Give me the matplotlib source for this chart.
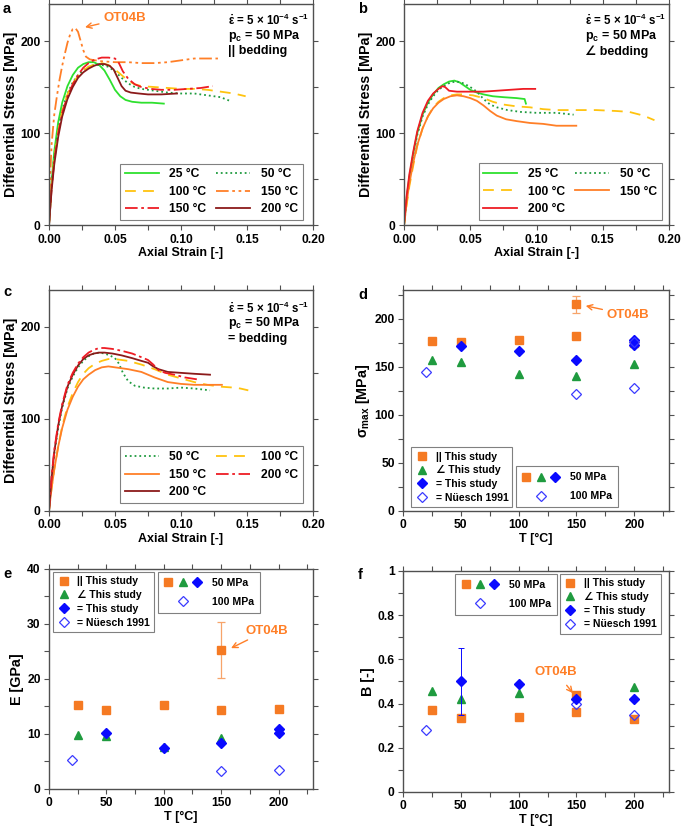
import matplotlib
matplotlib.use("Agg")
import matplotlib.pyplot as plt
from matplotlib.lines import Line2D
from matplotlib.legend_handler import HandlerTuple
from matplotlib.ticker import MultipleLocator, FuncFormatter

plt.rcParams['font.family'] = ['Liberation Sans', 'DejaVu Sans']
plt.rcParams['font.weight'] = 'bold'
plt.rcParams['axes.labelweight'] = 'bold'
plt.rcParams['mathtext.fontset'] = 'custom'
plt.rcParams['mathtext.rm'] = 'Liberation Sans:bold'
plt.rcParams['mathtext.it'] = 'Liberation Sans:bold'
plt.rcParams['mathtext.bf'] = 'Liberation Sans:bold'

# ---------- stress-strain curves ----------
# a: || bedding
a_25_x = [0, 0.002, 0.004, 0.007, 0.010, 0.014, 0.018, 0.022, 0.026, 0.030, 0.034, 0.038, 0.042, 0.046, 0.050, 0.054, 0.058, 0.063, 0.070, 0.078, 0.087]
a_25_y = [0, 48, 80, 112, 133, 151, 163, 171, 175, 177, 177, 174, 168, 158, 147, 140, 136, 134, 133, 133, 132]
a_50_x = [0, 0.002, 0.004, 0.007, 0.010, 0.014, 0.018, 0.022, 0.026, 0.030, 0.035, 0.040, 0.045, 0.050, 0.055, 0.060, 0.065, 0.070, 0.080, 0.090, 0.100, 0.110, 0.120, 0.130, 0.137]
a_50_y = [0, 44, 74, 104, 125, 143, 155, 163, 168, 172, 174, 174, 172, 167, 160, 154, 150, 148, 146, 144, 143, 143, 141, 139, 135]
a_100_x = [0, 0.002, 0.004, 0.007, 0.010, 0.014, 0.018, 0.022, 0.026, 0.030, 0.035, 0.040, 0.045, 0.050, 0.055, 0.060, 0.065, 0.070, 0.080, 0.090, 0.100, 0.110, 0.120, 0.130, 0.140, 0.149]
a_100_y = [0, 42, 72, 102, 124, 142, 154, 162, 168, 172, 175, 176, 174, 169, 163, 157, 153, 151, 150, 149, 148, 148, 147, 145, 143, 140]
a_150o_x = [0, 0.001, 0.002, 0.004, 0.006, 0.008, 0.010, 0.012, 0.014, 0.016, 0.018, 0.020, 0.022, 0.024, 0.026, 0.028, 0.031, 0.035, 0.040, 0.050, 0.060, 0.070, 0.080, 0.090, 0.100, 0.110, 0.120, 0.128]
a_150o_y = [0, 55, 88, 120, 140, 158, 173, 186, 198, 207, 213, 214, 210, 200, 190, 183, 180, 179, 178, 177, 177, 176, 176, 177, 179, 181, 181, 181]
a_150r_x = [0, 0.002, 0.004, 0.007, 0.010, 0.014, 0.018, 0.022, 0.026, 0.030, 0.035, 0.040, 0.045, 0.050, 0.053, 0.056, 0.060, 0.065, 0.070, 0.077, 0.085, 0.095, 0.105, 0.115, 0.124]
a_150r_y = [0, 40, 70, 100, 122, 140, 153, 163, 171, 176, 180, 182, 182, 181, 176, 167, 159, 153, 150, 148, 147, 147, 148, 149, 151]
a_200_x = [0, 0.002, 0.004, 0.007, 0.010, 0.014, 0.018, 0.022, 0.026, 0.030, 0.034, 0.038, 0.042, 0.046, 0.049, 0.052, 0.055, 0.058, 0.062, 0.068, 0.075, 0.085, 0.097]
a_200_y = [0, 38, 66, 96, 118, 137, 150, 160, 166, 170, 173, 175, 175, 173, 169, 160, 151, 146, 144, 143, 142, 142, 143]

# b: angled bedding
b_25_x = [0, 0.002, 0.004, 0.007, 0.010, 0.014, 0.018, 0.022, 0.026, 0.030, 0.034, 0.038, 0.042, 0.046, 0.050, 0.055, 0.060, 0.067, 0.075, 0.085, 0.091, 0.092]
b_25_y = [0, 30, 52, 78, 100, 120, 133, 142, 149, 153, 156, 157, 155, 151, 147, 144, 142, 140, 139, 138, 137, 132]
b_50_x = [0, 0.002, 0.004, 0.007, 0.010, 0.014, 0.018, 0.022, 0.026, 0.030, 0.035, 0.040, 0.045, 0.050, 0.055, 0.060, 0.065, 0.070, 0.078, 0.088, 0.100, 0.115, 0.128]
b_50_y = [0, 28, 50, 76, 98, 118, 131, 140, 147, 151, 155, 156, 154, 150, 145, 137, 131, 128, 125, 123, 122, 122, 120]
b_100_x = [0, 0.002, 0.004, 0.007, 0.010, 0.014, 0.018, 0.022, 0.026, 0.030, 0.035, 0.040, 0.045, 0.052, 0.060, 0.067, 0.075, 0.085, 0.095, 0.105, 0.115, 0.130, 0.145, 0.160, 0.170, 0.178, 0.184, 0.189]
b_100_y = [0, 22, 42, 65, 86, 105, 118, 128, 134, 138, 141, 142, 142, 141, 138, 134, 131, 129, 128, 126, 125, 125, 125, 124, 123, 120, 117, 114]
b_150_x = [0, 0.002, 0.004, 0.007, 0.010, 0.014, 0.018, 0.022, 0.026, 0.030, 0.035, 0.040, 0.045, 0.050, 0.055, 0.060, 0.065, 0.070, 0.077, 0.085, 0.095, 0.105, 0.115, 0.130]
b_150_y = [0, 25, 45, 68, 87, 105, 118, 127, 133, 137, 140, 141, 140, 138, 135, 130, 124, 119, 115, 113, 111, 110, 108, 108]
b_200_x = [0, 0.002, 0.004, 0.007, 0.010, 0.014, 0.018, 0.022, 0.026, 0.029, 0.031, 0.034, 0.040, 0.050, 0.060, 0.070, 0.080, 0.090, 0.099]
b_200_y = [0, 32, 55, 80, 102, 122, 135, 143, 148, 151, 150, 146, 145, 145, 145, 146, 147, 148, 148]

# c: perpendicular bedding
c_50_x = [0, 0.002, 0.004, 0.007, 0.010, 0.014, 0.018, 0.022, 0.026, 0.030, 0.034, 0.038, 0.042, 0.046, 0.050, 0.053, 0.056, 0.060, 0.065, 0.072, 0.080, 0.090, 0.100, 0.110, 0.122]
c_50_y = [0, 35, 62, 90, 112, 133, 146, 156, 163, 168, 171, 172, 171, 169, 166, 160, 150, 141, 136, 134, 133, 133, 134, 133, 131]
c_100_x = [0, 0.002, 0.004, 0.007, 0.010, 0.014, 0.018, 0.022, 0.026, 0.030, 0.035, 0.040, 0.045, 0.050, 0.060, 0.070, 0.080, 0.090, 0.100, 0.110, 0.120, 0.130, 0.140, 0.145, 0.151]
c_100_y = [0, 25, 45, 70, 92, 113, 128, 140, 149, 155, 160, 163, 165, 165, 163, 159, 154, 148, 144, 140, 137, 135, 134, 133, 131]
c_150_x = [0, 0.002, 0.004, 0.007, 0.010, 0.014, 0.018, 0.022, 0.026, 0.030, 0.035, 0.040, 0.045, 0.050, 0.055, 0.060, 0.070, 0.080, 0.090, 0.100, 0.110, 0.120, 0.131]
c_150_y = [0, 25, 45, 70, 90, 110, 124, 135, 143, 148, 153, 156, 157, 156, 155, 154, 151, 145, 140, 138, 137, 137, 137]
c_200r_x = [0, 0.002, 0.004, 0.007, 0.010, 0.014, 0.018, 0.022, 0.026, 0.030, 0.034, 0.038, 0.042, 0.048, 0.055, 0.063, 0.070, 0.075, 0.079, 0.083, 0.088, 0.095, 0.103, 0.112]
c_200r_y = [0, 38, 66, 95, 116, 137, 150, 160, 167, 172, 175, 177, 177, 176, 174, 171, 167, 164, 159, 153, 150, 148, 145, 143]
c_200d_x = [0, 0.002, 0.004, 0.007, 0.010, 0.014, 0.018, 0.022, 0.026, 0.030, 0.034, 0.038, 0.042, 0.048, 0.055, 0.063, 0.070, 0.075, 0.079, 0.083, 0.090, 0.100, 0.110, 0.122]
c_200d_y = [0, 36, 64, 93, 114, 135, 148, 158, 165, 169, 171, 172, 172, 171, 169, 166, 163, 161, 157, 154, 151, 150, 149, 148]

# ---------- summary data vs temperature ----------
T_par = [25, 50, 100, 150, 200]
T_ang_s = [25, 50, 100, 150, 200]
T_perp_s = [50, 100, 150, 200, 200]
T_nue_s = [20, 150, 200, 200]
smax_par = [177, 175.5, 177.5, 182.5, 175]
smax_ang = [157, 155.5, 142.5, 141, 152.5]
smax_perp = [172, 166.5, 157.5, 178, 172.5]
smax_nue = [144.5, 121.5, 128, 176]
smax_ot, smax_ot_err = 215, 9

T_ang_e = [25, 50, 100, 150]
T_perp_e = [50, 100, 150, 200, 200]
T_nue_e = [20, 150, 200]
E_par = [15.3, 14.4, 15.2, 14.3, 14.6]
E_ang = [9.9, 9.6, 7.7, 9.3]
E_perp = [10.1, 7.4, 8.4, 10.9, 10.2]
E_nue = [5.2, 3.2, 3.4]
E_ot, E_ot_err = 25.3, 5.1

T_ang_b = [25, 50, 100, 200]
T_perp_b = [50, 100, 150, 200]
T_nue_b = [20, 150, 200]
B_par = [0.373, 0.336, 0.34, 0.361, 0.33]
B_ang = [0.455, 0.42, 0.45, 0.473]
B_perp = [0.50, 0.49, 0.42, 0.42]
B_perp_err = [0.15, 0, 0, 0]
B_nue = [0.28, 0.40, 0.35]
B_ot = 0.437
T_ot = 150

# colours
C_GREEN_L = '#2ee02e'
C_GREEN_D = '#1f9b3f'
C_YELLOW = '#ffc30f'
C_ORANGE = '#ff7f27'
C_RED = '#ee1c24'
C_DRED = '#8b1a1a'
C_SQ = '#f57a23'
C_BLUE = '#0a0aff'
C_OPEN = '#3a3aff'

fig = plt.figure(figsize=(6.85, 8.34), dpi=100)
ax_a = fig.add_axes([0.0715, 0.730, 0.3854, 0.265])
ax_b = fig.add_axes([0.5898, 0.730, 0.3869, 0.265])
ax_c = fig.add_axes([0.0715, 0.3873, 0.3854, 0.265])
ax_d = fig.add_axes([0.5883, 0.3873, 0.3883, 0.265])
ax_e = fig.add_axes([0.0715, 0.0540, 0.3854, 0.2638])
ax_f = fig.add_axes([0.5883, 0.0504, 0.3883, 0.2650])

FS_TICK = 8.7
FS_XL = 9
FS_YL = 10.3
FS_LEG = 8.7
FS_LEG2 = 7.6
lw = 1.3
dash = (6, 4)
dashdot = (7, 2, 1.5, 2)
dashdotdot = (7, 2, 1.5, 2, 1.5, 2)


def style(ax, major_x, minor_x, major_y, minor_y):
    for s in ax.spines.values():
        s.set_color('#505050')
        s.set_linewidth(1.0)
    ax.xaxis.set_major_locator(MultipleLocator(major_x))
    ax.xaxis.set_minor_locator(MultipleLocator(minor_x))
    ax.yaxis.set_major_locator(MultipleLocator(major_y))
    ax.yaxis.set_minor_locator(MultipleLocator(minor_y))
    ax.tick_params(which='both', direction='out', top=True, right=True,
                   length=3.5, width=0.8, color='#505050', labelsize=FS_TICK, pad=2.5)
    for lab in ax.get_xticklabels() + ax.get_yticklabels():
        lab.set_fontweight('bold')


def leg_style(leg):
    leg.get_frame().set_edgecolor('#808080')
    leg.get_frame().set_linewidth(0.8)


def cond_text(ax, x, ys, third):
    ax.text(x, ys[0], r'$\dot{\varepsilon}$ = 5 × 10$^{-4}$ s$^{-1}$', transform=ax.transAxes,
            fontsize=8.3, va='center', ha='left')
    ax.text(x, ys[1], r'p$_{\mathrm{c}}$ = 50 MPa', transform=ax.transAxes,
            fontsize=9, va='center', ha='left')
    ax.text(x, ys[2], third, transform=ax.transAxes, fontsize=9, va='center', ha='left')


def curve_legend(ax, handles, labels, anchor):
    leg = ax.legend(handles, labels, ncol=2, loc='lower right', bbox_to_anchor=anchor,
                    fontsize=FS_LEG, handlelength=2.8, handletextpad=0.9, columnspacing=0.8,
                    labelspacing=0.45, fancybox=False, framealpha=1, borderpad=0.4,
                    borderaxespad=0)
    leg_style(leg)
    return leg


def strain_axis(ax):
    ax.set_xlim(0, 0.2)
    ax.set_ylim(0, 240)
    style(ax, 0.05, 0.025, 100, 50)
    ax.xaxis.set_major_formatter(FuncFormatter(lambda v, p: f'{v:.2f}'))
    ax.set_xlabel('Axial Strain [-]', fontsize=FS_XL, labelpad=1)
    ax.set_ylabel('Differential Stress [MPa]', fontsize=FS_YL, labelpad=2)


# ----- panel a -----
ax = ax_a
h25, = ax.plot(a_25_x, a_25_y, color=C_GREEN_L, lw=lw)
h50, = ax.plot(a_50_x, a_50_y, color=C_GREEN_D, lw=lw, ls=':')
h100, = ax.plot(a_100_x, a_100_y, color=C_YELLOW, lw=lw, dashes=dash)
h150o, = ax.plot(a_150o_x, a_150o_y, color=C_ORANGE, lw=lw, dashes=dashdotdot)
h150r, = ax.plot(a_150r_x, a_150r_y, color=C_RED, lw=lw, dashes=dashdot)
h200, = ax.plot(a_200_x, a_200_y, color=C_DRED, lw=lw)
strain_axis(ax)
curve_legend(ax, [h25, h100, h150r, h50, h150o, h200],
             ['25 °C', '100 °C', '150 °C', '50 °C', '150 °C', '200 °C'], (0.962, 0.023))
cond_text(ax, 0.678, [0.928, 0.858, 0.786], '|| bedding')
ax.annotate('OT04B', xy=(0.0273, 215), xytext=(0.041, 225), color=C_ORANGE,
            fontsize=9.5, fontweight='bold', va='center',
            arrowprops=dict(arrowstyle='->', color=C_ORANGE, lw=1.0, shrinkA=1, shrinkB=0))

# ----- panel b -----
ax = ax_b
g25, = ax.plot(b_25_x, b_25_y, color=C_GREEN_L, lw=lw)
g50, = ax.plot(b_50_x, b_50_y, color=C_GREEN_D, lw=lw, ls=':')
g100, = ax.plot(b_100_x, b_100_y, color=C_YELLOW, lw=lw, dashes=dash)
g150, = ax.plot(b_150_x, b_150_y, color=C_ORANGE, lw=lw)
g200, = ax.plot(b_200_x, b_200_y, color=C_RED, lw=lw)
strain_axis(ax)
curve_legend(ax, [g25, g100, g200, g50, g150],
             ['25 °C', '100 °C', '200 °C', '50 °C', '150 °C'], (0.972, 0.024))
cond_text(ax, 0.683, [0.928, 0.858, 0.786], '∠ bedding')

# ----- panel c -----
ax = ax_c
k50, = ax.plot(c_50_x, c_50_y, color=C_GREEN_D, lw=lw, ls=':')
k100, = ax.plot(c_100_x, c_100_y, color=C_YELLOW, lw=lw, dashes=dash)
k150, = ax.plot(c_150_x, c_150_y, color=C_ORANGE, lw=lw)
k200d, = ax.plot(c_200d_x, c_200d_y, color=C_DRED, lw=lw)
k200r, = ax.plot(c_200r_x, c_200r_y, color=C_RED, lw=lw, dashes=dashdot)
strain_axis(ax)
curve_legend(ax, [k50, k150, k200d, k100, k200r],
             ['50 °C', '150 °C', '200 °C', '100 °C', '200 °C'], (0.962, 0.036))
cond_text(ax, 0.678, [0.918, 0.851, 0.778], '= bedding')

# ----- markers for d, e, f -----
MS = 5.5
m_par = dict(marker='s', color=C_SQ, ms=MS, ls='none')
m_ang = dict(marker='^', color=C_GREEN_D, ms=MS, ls='none')
m_perp = dict(marker='D', color=C_BLUE, ms=MS - 0.8, ls='none')
m_nue = dict(marker='D', mfc='none', mec=C_OPEN, mew=0.9, ms=MS - 0.8, ls='none')

lp = Line2D([], [], **m_par)
la = Line2D([], [], **m_ang)
lq = Line2D([], [], **m_perp)
ln = Line2D([], [], **m_nue)
study_labels = ['|| This study', '∠ This study', '= This study', '= Nüesch 1991']


def study_legend(ax, loc, anchor):
    leg = ax.legend([lp, la, lq, ln], study_labels, loc=loc, bbox_to_anchor=anchor,
                    fontsize=FS_LEG2, handlelength=1.2, handletextpad=0.7, labelspacing=0.35,
                    fancybox=False, framealpha=1, borderpad=0.4, numpoints=1, borderaxespad=0)
    leg_style(leg)
    return leg


def press_legend(ax, loc, anchor):
    leg = ax.legend([(lp, la, lq), ln], ['50 MPa', '100 MPa'], loc=loc, bbox_to_anchor=anchor,
                    fontsize=FS_LEG2, handlelength=3.5, handletextpad=1.0, labelspacing=0.85,
                    handler_map={tuple: HandlerTuple(ndivide=None, pad=0.5)},
                    fancybox=False, framealpha=1, borderpad=0.55, numpoints=1, borderaxespad=0)
    leg_style(leg)
    return leg


def temp_axis(ax):
    ax.set_xlim(0, 230)
    ax.set_xlabel('T [°C]', fontsize=FS_XL, labelpad=1)


# ----- panel d -----
ax = ax_d
ax.errorbar([T_ot], [smax_ot], yerr=[smax_ot_err], color='#f7a46a', ecolor='#f7a46a',
            elinewidth=0.9, capsize=3, capthick=0.9, ls='none')
ax.plot([T_ot], [smax_ot], **m_par)
ax.plot(T_par, smax_par, **m_par)
ax.plot(T_ang_s, smax_ang, **m_ang)
ax.plot(T_perp_s, smax_perp, **m_perp)
ax.plot(T_nue_s, smax_nue, **m_nue)
temp_axis(ax)
ax.set_ylim(0, 230)
style(ax, 50, 25, 50, 25)
ax.set_ylabel(r'$\sigma_{\mathrm{max}}$ [MPa]', fontsize=FS_YL, labelpad=2)
l1 = study_legend(ax, 'lower left', (0.031, 0.018))
ax.add_artist(l1)
press_legend(ax, 'lower left', (0.426, 0.018))
ax.annotate('OT04B', xy=(158, 213.5), xytext=(176, 204), color=C_ORANGE,
            fontsize=9.5, fontweight='bold', va='center',
            arrowprops=dict(arrowstyle='->', color=C_ORANGE, lw=1.0, shrinkA=1, shrinkB=0))

# ----- panel e -----
ax = ax_e
ax.errorbar([T_ot], [E_ot], yerr=[E_ot_err], color='#f7a46a', ecolor='#f7a46a',
            elinewidth=0.9, capsize=3, capthick=0.9, ls='none')
ax.plot([T_ot], [E_ot], **m_par)
ax.plot(T_par, E_par, **m_par)
ax.plot(T_ang_e, E_ang, **m_ang)
ax.plot(T_perp_e, E_perp, **m_perp)
ax.plot(T_nue_e, E_nue, **m_nue)
temp_axis(ax)
ax.set_ylim(0, 40)
style(ax, 50, 25, 10, 5)
ax.set_ylabel('E [GPa]', fontsize=FS_YL, labelpad=2)
l1 = study_legend(ax, 'upper left', (0.016, 0.985))
ax.add_artist(l1)
press_legend(ax, 'upper left', (0.414, 0.985))
ax.annotate('OT04B', xy=(158.6, 25.6), xytext=(171, 28.8), color=C_ORANGE,
            fontsize=9.5, fontweight='bold', va='center',
            arrowprops=dict(arrowstyle='->', color=C_ORANGE, lw=1.0, shrinkA=1, shrinkB=0))

# ----- panel f -----
ax = ax_f
ax.plot(T_par, B_par, **m_par)
ax.plot([T_ot], [B_ot], **m_par)
ax.plot(T_ang_b, B_ang, **m_ang)
ax.errorbar(T_perp_b, B_perp, yerr=B_perp_err, ecolor=C_BLUE, elinewidth=0.7,
            capsize=2.5, capthick=0.7, ls='none', marker='D', color=C_BLUE, ms=MS - 0.8)
ax.plot(T_nue_b, B_nue, **m_nue)
temp_axis(ax)
ax.set_ylim(0, 1)
style(ax, 50, 25, 0.2, 0.1)
ax.yaxis.set_major_formatter(FuncFormatter(lambda v, p: f'{v:g}'))
ax.set_ylabel('B [-]', fontsize=FS_YL, labelpad=2)
l1 = press_legend(ax, 'upper left', (0.197, 0.986))
ax.add_artist(l1)
study_legend(ax, 'upper left', (0.589, 0.986))
ax.annotate('OT04B', xy=(147, 0.447), xytext=(114, 0.542), color=C_ORANGE,
            fontsize=9.5, fontweight='bold', va='center',
            arrowprops=dict(arrowstyle='->', color=C_ORANGE, lw=1.0, shrinkA=4, shrinkB=0))

# panel letters
for letter, (x, y) in zip('abcdef', [(3, 9), (358, 9), (3, 292), (358, 295), (3, 574), (358, 575)]):
    fig.text(x / 685, 1 - y / 834, letter, fontsize=10.5, fontweight='bold', va='center', ha='left')

fig.savefig('out.png', dpi=100)
